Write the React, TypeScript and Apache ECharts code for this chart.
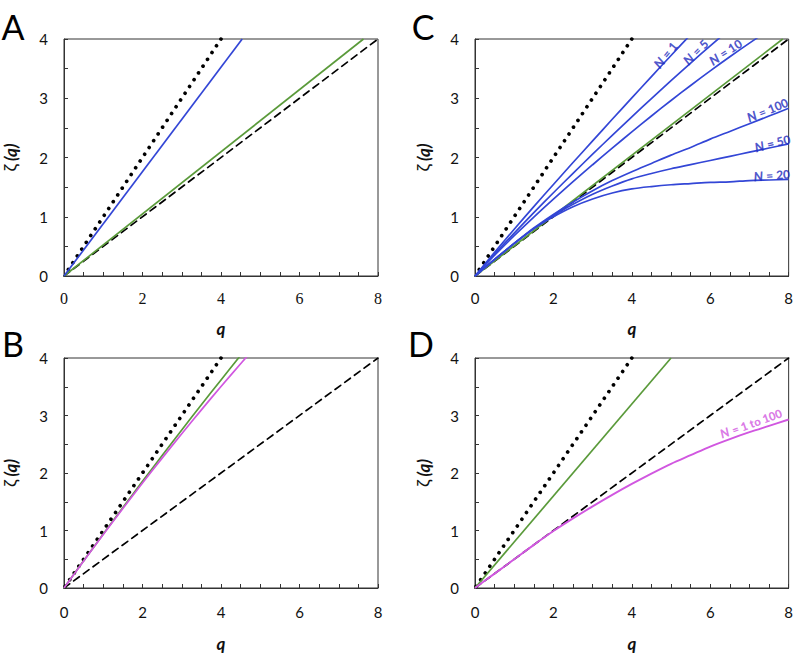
import React, { useEffect, useRef } from "react";
import * as echarts from "echarts";

// Common q grid (step 0.5)
const Q_GRID = [0, 0.5, 1, 1.5, 2, 2.5, 3, 3.5, 4, 4.5, 5, 5.5, 6, 6.5, 7, 7.5, 8];
const X_TICK_LABELS = [0, 2, 4, 6, 8];
const Y_TICK_LABELS = [0, 1, 2, 3, 4];

// Reference lines (endpoints; dotted drawn from its top end)
const DOTTED_Q = [4, 0];
const DOTTED_Z = [4, 0];
const DASHED_Q = [0, 8];
const DASHED_Z = [0, 4];

// Panel A
const A_BLUE_Q = [0, 4.54];
const A_BLUE_Z = [0, 4];
const A_GREEN_Q = [0, 7.63];
const A_GREEN_Z = [0, 4];

// Panel B
const B_GREEN = [0, 0.472, 0.939, 1.4, 1.855, 2.304, 2.748, 3.187, 3.619, 4.046];
const B_MAGENTA = [0, 0.47, 0.932, 1.383, 1.826, 2.259, 2.684, 3.098, 3.504, 3.9, 4.288];

// Panel C
const C_GREEN_Q = [0, 7.85];
const C_GREEN_Z = [0, 4];
const C_N1 = [0, 0.4, 0.79, 1.17, 1.545, 1.915, 2.28, 2.645, 3.006, 3.366, 3.722, 4.075];
const C_N5 = [0, 0.37, 0.725, 1.07, 1.405, 1.733, 2.056, 2.374, 2.686, 2.995, 3.297, 3.594, 3.884, 4.169];
const C_N10 = [0, 0.35, 0.68, 0.995, 1.298, 1.592, 1.878, 2.158, 2.432, 2.701, 2.962, 3.216, 3.462, 3.7, 3.93, 4.153];
const C_N20 = [0, 0.28, 0.55, 0.8, 1.0, 1.17, 1.3, 1.4, 1.47, 1.51, 1.54, 1.56, 1.58, 1.59, 1.61, 1.62, 1.63];
const C_N50 = [0, 0.28, 0.55, 0.8, 1.02, 1.21, 1.38, 1.52, 1.64, 1.73, 1.81, 1.88, 1.95, 2.02, 2.09, 2.16, 2.23];
const C_N100 = [0, 0.28, 0.55, 0.81, 1.04, 1.25, 1.44, 1.61, 1.76, 1.9, 2.04, 2.17, 2.31, 2.44, 2.57, 2.7, 2.83];

// Panel D
const D_GREEN_Q = [0, 5];
const D_GREEN_Z = [0, 4];
const D_MAGENTA = [0, 0.25, 0.5, 0.75, 0.99, 1.21, 1.42, 1.62, 1.81, 1.99, 2.16, 2.31, 2.46, 2.59, 2.71, 2.82, 2.93];

// Curve labels
const C_LABELS = ["1", "5", "10", "100", "50", "20"];
const C_LABEL_Q = [4.86, 5.63, 6.39, 7.46, 7.59, 7.57];
const C_LABEL_Z = [3.73, 3.78, 3.78, 2.8, 2.24, 1.7];
const C_LABEL_ROT = [50, 45, 33, 22, 14, 4];
const D_LABEL = "1 to 100";
const D_LABEL_Q = 7.04;
const D_LABEL_Z = 2.86;
const D_LABEL_ROT = 20;

const PANELS = ["A", "B", "C", "D"];

const BLUE = "#3346d6";
const LABEL_BLUE = "#1f2bbd";
const GREEN = "#5a9a3a";
const MAGENTA = "#d157e0";
const FONT = "Lato, 'Open Sans', sans-serif";

const grid = (xs, ys) => xs.map((q, i) => [q, ys[i]]);
const onGrid = (vals) => vals.map((v, i) => [Q_GRID[i], v]);

export default function App() {
  const ref = useRef<HTMLDivElement>(null);
  useEffect(() => {
    const chart = echarts.init(ref.current!, null, { renderer: "svg" });

    const grids = [
      { left: 63, top: 39, width: 315, height: 237 },
      { left: 63, top: 358, width: 315, height: 237 },
      { left: 475, top: 39, width: 314, height: 237 },
      { left: 475, top: 358, width: 314, height: 237 },
    ].map((g) => ({ ...g, show: true, borderColor: "#333", borderWidth: 1, backgroundColor: "transparent" }));

    const xAxes = [0, 1, 2, 3].map((i) => ({
      type: "value",
      gridIndex: i,
      min: 0,
      max: 8,
      interval: 0.5,
      name: "q",
      nameLocation: "middle",
      nameGap: i % 2 === 0 ? 44 : 47,
      nameTextStyle: { fontFamily: FONT, fontSize: 17, fontWeight: "bold", fontStyle: "italic", color: "#111" },
      axisLine: { show: true, lineStyle: { color: "#333", width: 1 } },
      axisTick: { show: true, inside: true, length: 4, lineStyle: { color: "#333" } },
      splitLine: { show: false },
      axisLabel: {
        margin: i % 2 === 0 ? 14 : 16,
        fontSize: i === 0 ? 16 : 15,
        fontFamily: i === 0 ? "'Liberation Serif', serif" : FONT,
        color: "#111",
        formatter: (v) => (X_TICK_LABELS.includes(v) ? String(v) : ""),
      },
    }));

    const yAxes = [0, 1, 2, 3].map((i) => ({
      type: "value",
      gridIndex: i,
      min: 0,
      max: 4,
      interval: 0.5,
      name: "{z|ζ} {q|(q)}",
      nameLocation: "middle",
      nameRotate: 90,
      nameGap: i < 2 ? 45 : 43,
      nameTextStyle: {
        rich: {
          z: { fontFamily: FONT, fontSize: 18, color: "#111" },
          q: { fontFamily: FONT, fontSize: 17, fontWeight: "bold", fontStyle: "italic", color: "#111" },
        },
      },
      axisLine: { show: true, lineStyle: { color: "#333", width: 1 } },
      axisTick: { show: true, inside: true, length: 4, lineStyle: { color: "#333" } },
      splitLine: { show: false },
      axisLabel: {
        margin: 16,
        fontSize: 15,
        fontFamily: FONT,
        color: "#111",
        formatter: (v) => (Y_TICK_LABELS.includes(v) ? String(v) : ""),
      },
    }));

    const line = (gi, data, color, width, type: any = "solid", smooth: any = false, z = 2) => ({
      type: "line",
      xAxisIndex: gi,
      yAxisIndex: gi,
      data,
      showSymbol: false,
      symbol: "none",
      smooth,
      silent: true,
      z,
      clip: true,
      lineStyle: { color, width, type, cap: type === "solid" ? "butt" : "round" },
    });
    const dotted = (gi) => line(gi, grid(DOTTED_Q, DOTTED_Z), "#000", 3.7, [0.01, 8.12]);
    const dashed = (gi) => line(gi, grid(DASHED_Q, DASHED_Z), "#000", 1.7, [7, 5]);

    const labelSeries = (gi, q, z, rot, text, color, size) => ({
      type: "scatter",
      xAxisIndex: gi,
      yAxisIndex: gi,
      data: [[q, z]],
      symbolSize: 0.1,
      itemStyle: { color: "transparent" },
      silent: true,
      z: 5,
      label: {
        show: true,
        position: "inside",
        rotate: rot,
        formatter: "{n|N} {t|= " + text + "}",
        rich: {
          n: { fontFamily: FONT, fontSize: size + 1, fontWeight: 900, fontStyle: "italic", color },
          t: { fontFamily: FONT, fontSize: size, fontWeight: 900, color },
        },
      },
    });

    const series: any[] = [
      // A (grid 0)
      dotted(0),
      dashed(0),
      line(0, grid(A_GREEN_Q, A_GREEN_Z), GREEN, 1.7),
      line(0, grid(A_BLUE_Q, A_BLUE_Z), BLUE, 1.7),
      // B (grid 1)
      dotted(1),
      dashed(1),
      line(1, onGrid(B_GREEN), GREEN, 1.7, "solid", 0.3),
      line(1, onGrid(B_MAGENTA), MAGENTA, 1.7, "solid", 0.3),
      // C (grid 2)
      dotted(2),
      dashed(2),
      line(2, grid(C_GREEN_Q, C_GREEN_Z), GREEN, 1.7),
      line(2, onGrid(C_N1), BLUE, 1.7, "solid", 0.3),
      line(2, onGrid(C_N5), BLUE, 1.7, "solid", 0.3),
      line(2, onGrid(C_N10), BLUE, 1.7, "solid", 0.3),
      line(2, onGrid(C_N20), BLUE, 1.7, "solid", 0.3),
      line(2, onGrid(C_N50), BLUE, 1.7, "solid", 0.3),
      line(2, onGrid(C_N100), BLUE, 1.7, "solid", 0.3),
      // D (grid 3)
      dotted(3),
      dashed(3),
      line(3, grid(D_GREEN_Q, D_GREEN_Z), GREEN, 1.7),
      line(3, onGrid(D_MAGENTA), MAGENTA, 1.9, "solid", 0.3, 3),
    ];
    C_LABELS.forEach((t, i) => {
      series.push(labelSeries(2, C_LABEL_Q[i], C_LABEL_Z[i], C_LABEL_ROT[i], t, LABEL_BLUE, 12));
    });
    series.push(labelSeries(3, D_LABEL_Q, D_LABEL_Z, D_LABEL_ROT, D_LABEL, MAGENTA, 11.5));

    const letterPos = [
      [13, 26],
      [13, 343],
      [423, 26],
      [421, 343],
    ];
    const graphic = PANELS.map((p, i) => ({
      type: "text",
      x: letterPos[i][0],
      y: letterPos[i][1],
      silent: true,
      style: {
        text: p,
        fontFamily: FONT,
        fontSize: 34,
        fill: "#000",
        textAlign: "center",
        textVerticalAlign: "middle",
      },
    }));

    chart.setOption({
      animation: false,
      backgroundColor: "#fff",
      grid: grids,
      xAxis: xAxes,
      yAxis: yAxes,
      series,
      graphic,
    });
    return () => chart.dispose();
  }, []);

  return (
    <div
      ref={ref}
      style={{ position: "fixed", left: 0, top: 0, width: 796, height: 653 }}
    />
  );
}
